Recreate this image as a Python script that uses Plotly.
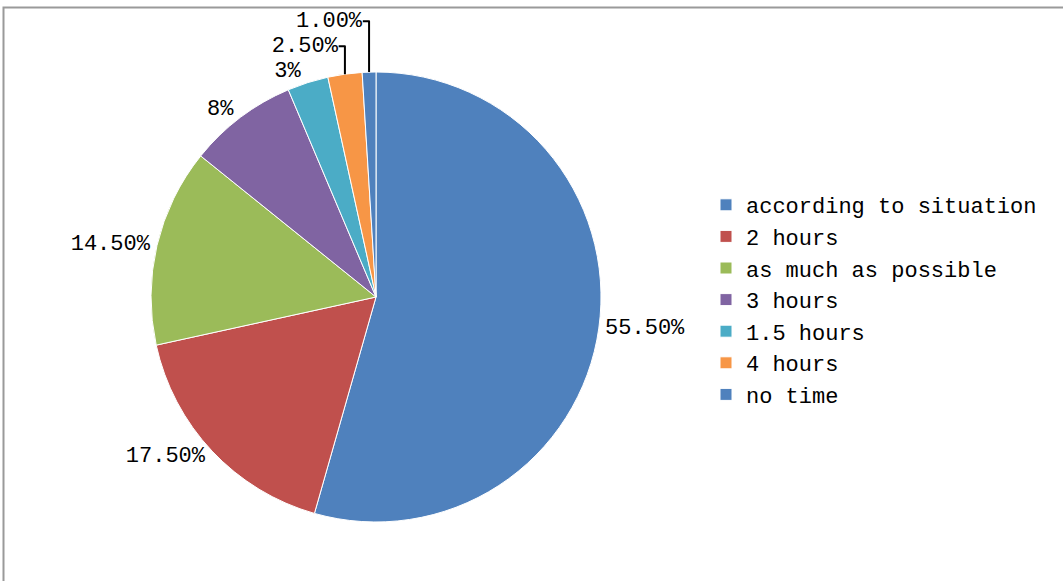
import plotly.graph_objects as go

# Daily time spent, share of respondents
categories = ["according to situation", "2 hours", "as much as possible",
              "3 hours", "1.5 hours", "4 hours", "no time"]
shares = [55.5, 17.5, 14.5, 8, 3, 2.5, 1]
share_labels = ["55.50%", "17.50%", "14.50%", "8%", "3%", "2.50%", "1.00%"]
colors = ["#4F81BD", "#C0504D", "#9BBB59", "#8064A2", "#4BACC6", "#F79646", "#4F81BD"]

W, H = 1063, 581
font_family = "Liberation Mono, DejaVu Sans Mono, monospace"

fig = go.Figure(go.Pie(
    labels=categories,
    values=shares,
    text=share_labels,
    textinfo="text",
    textposition="outside",
    sort=False,
    direction="clockwise",
    rotation=0,
    marker=dict(colors=colors, line=dict(color="white", width=1)),
    textfont=dict(family=font_family, size=22, color="black"),
    domain=dict(x=[151 / W, 601 / W], y=[1 - 522 / H, 1 - 72 / H]),
    showlegend=True,
))

# chart-area frame
fig.add_shape(type="rect", xref="paper", yref="paper",
              x0=3.5 / W, x1=1.02, y0=-0.02, y1=1 - 7.5 / H,
              line=dict(color="#9a9a9a", width=2), fillcolor="rgba(0,0,0,0)")

fig.update_layout(
    width=W, height=H,
    margin=dict(l=0, r=0, t=0, b=0),
    paper_bgcolor="white",
    plot_bgcolor="white",
    font=dict(family=font_family, size=22, color="black"),
    legend=dict(x=706 / W, y=1 - 184 / H, xanchor="left", yanchor="top",
                font=dict(family=font_family, size=22, color="black"),
                tracegroupgap=0, itemwidth=30),
)

fig.write_html("out.html")
